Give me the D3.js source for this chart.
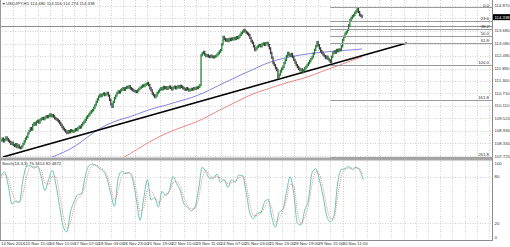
<!DOCTYPE html>
<html>
<head>
<meta charset="utf-8">
<script src="https://cdn.jsdelivr.net/npm/d3@7"></script>
<style>
  body { margin: 0; background: #fff; }
  svg { display: block; font-family: "Liberation Sans", Arial, sans-serif; }
</style>
</head>
<body>
<div id="chart"></div>
<script>
const TITLE = "USDJPY,H1  114.480 114.556 114.274 114.338";
const STOCH_TITLE = "Stoch(14,3,3) 76.3414 82.4872";
const LAST_PRICE = 114.338;
const FIRST_OPEN = 108.45;

// hourly closes, one per bar
const CLOSES = [
  108.48, 108.55, 108.42, 108.50, 108.60, 108.52, 108.45, 108.39, 108.30, 108.35,
  108.25, 108.20, 108.28, 108.15, 108.22, 108.12, 108.10, 108.18, 108.30, 108.42,
  108.55, 108.63, 108.80, 108.92, 109.05, 108.98, 109.20, 109.28, 109.22, 109.35,
  109.40, 109.32, 109.45, 109.50, 109.53, 109.48, 109.55, 109.62, 109.58, 109.63,
  109.70, 109.62, 109.67, 109.60, 109.52, 109.48, 109.44, 109.38, 109.29, 109.20,
  109.10, 109.02, 108.95, 108.88, 108.82, 108.90, 108.85, 108.95, 108.91, 108.88,
  108.93, 109.00, 108.96, 109.05, 109.12, 109.08, 109.20, 109.28, 109.35, 109.44,
  109.55, 109.62, 109.70, 109.78, 109.85, 109.91, 110.02, 110.15, 110.30, 110.42,
  110.55, 110.63, 110.58, 110.66, 110.70, 110.62, 110.68, 110.72, 110.60, 110.40,
  110.18, 110.06, 110.30, 110.48, 110.60, 110.72, 110.80, 110.75, 110.85, 110.90,
  110.95, 110.88, 110.96, 111.01, 110.98, 111.05, 110.95, 110.90, 110.85, 110.82,
  110.80, 110.77, 110.85, 110.92, 110.98, 111.02, 111.08, 111.05, 111.12, 111.16,
  111.20, 111.10, 110.95, 110.85, 110.70, 110.62, 110.53, 110.60, 110.72, 110.80,
  110.88, 110.95, 110.90, 111.01, 110.95, 111.00, 110.92, 110.98, 111.03, 110.96,
  110.90, 110.98, 111.02, 110.95, 111.00, 111.05, 110.98, 111.06, 111.02, 110.96,
  110.92, 110.88, 110.95, 110.90, 110.84, 110.87, 110.92, 110.89, 110.95, 110.92,
  110.98, 110.96, 111.02, 111.10, 112.53, 112.62, 112.68, 112.55, 112.48, 112.52,
  112.47, 112.44, 112.50, 112.45, 112.42, 112.46, 112.49, 112.55, 112.62, 112.70,
  112.77, 113.05, 113.39, 113.30, 113.22, 113.28, 113.20, 113.30, 113.25, 113.32,
  113.28, 113.35, 113.30, 113.38, 113.34, 113.42, 113.50, 113.58, 113.65, 113.73,
  113.66, 113.60, 113.55, 113.49, 113.35, 113.20, 113.11, 112.95, 112.77, 112.85,
  112.92, 112.98, 113.01, 112.95, 113.05, 113.08, 113.02, 113.10, 113.11, 113.00,
  112.85, 112.63, 112.40, 112.15, 112.05, 111.92, 111.82, 111.44, 111.60, 111.75,
  111.88, 111.96, 112.15, 112.30, 112.48, 112.63, 112.55, 112.50, 112.58, 112.44,
  112.30, 112.18, 112.05, 111.96, 111.88, 111.80, 111.85, 111.72, 111.80, 111.90,
  111.98, 112.06, 112.15, 112.25, 112.35, 112.44, 112.60, 112.78, 112.95, 113.15,
  113.00, 112.85, 112.72, 112.63, 112.55, 112.48, 112.39, 112.45, 112.35, 112.28,
  112.20, 112.45, 112.63, 112.70, 112.65, 112.77, 112.72, 112.80, 112.77, 112.95,
  113.25, 113.40, 113.55, 113.62, 113.73, 113.95, 114.20, 114.30, 114.38, 114.44,
  114.55, 114.62, 114.72, 114.58, 114.44, 114.40, 114.34
];

const MA_STEP = 10;
const BLUE_MA_START = 36;
const BLUE_MA = [
  107.53, 107.77, 108.01, 108.39, 108.86, 109.20, 109.44, 109.58, 109.82, 110.01,
  110.15, 110.34, 110.49, 110.72, 111.01, 111.29, 111.58, 111.82, 112.11, 112.30,
  112.44, 112.54, 112.63, 112.68, 112.73, 112.77, 112.82
];
const RED_MA_START = 96;
const RED_MA = [
  107.53, 107.82, 108.20, 108.53, 108.82, 109.05, 109.25, 109.48, 109.82, 110.10,
  110.39, 110.68, 110.87, 111.06, 111.25, 111.39, 111.58, 111.82, 112.01, 112.25,
  112.44
];

const TREND_BARS = [1.6, 332.8];
const TREND_PRICES = [107.67, 113.11];
const HLINE_PRICE = 113.92;

const FIB_LEVELS = [0, 23.6, 38.2, 50, 61.8, 100, 161.8, 261.8];
const FIB_HIGH = 114.80;
const FIB_LOW = 112.08;
const FIB_START_BAR = 270;

const STOCH_STEP = 3;
const STOCH_MAIN = [
  81, 86, 68, 45, 48, 47, 76, 93, 94, 91, 93, 80, 62, 76, 88, 70, 42, 16, 9, 35,
  48, 57, 58, 80, 94, 96, 94, 90, 87, 77, 58, 42, 77, 87, 84, 85, 76, 50, 24, 52,
  76, 50, 53, 41, 61, 56, 62, 80, 71, 62, 45, 41, 36, 41, 64, 92, 86, 78, 78, 83,
  73, 76, 66, 76, 73, 82, 81, 60, 33, 26, 33, 34, 47, 51, 28, 15, 34, 38, 60, 80,
  58, 20, 18, 37, 50, 85, 90, 76, 55, 30, 22, 30, 72, 89, 90, 93, 89, 92, 88, 76
];
const STOCH_SIGNAL = [
  78, 83, 78, 60, 50, 47, 58, 80, 92, 93, 92, 88, 72, 70, 80, 80, 58, 30, 14, 22,
  40, 52, 56, 68, 86, 94, 95, 92, 89, 82, 67, 50, 62, 80, 85, 85, 80, 62, 36, 40,
  63, 62, 54, 47, 52, 58, 60, 72, 74, 67, 53, 43, 39, 39, 52, 78, 88, 82, 79, 80,
  78, 75, 71, 72, 74, 78, 81, 70, 45, 30, 30, 33, 40, 48, 40, 22, 26, 36, 50, 70,
  68, 35, 20, 28, 43, 70, 86, 83, 65, 42, 26, 27, 55, 80, 89, 91, 91, 91, 90, 82
];
const STOCH_TICKS = [100, 80, 20, 0];
const STOCH_LEVELS = [80, 20];

const PRICE_TICKS = [
  114.870, 114.280, 113.680, 113.080, 112.490, 111.890, 111.300,
  110.710, 110.110, 109.520, 108.930, 108.330, 107.720
];

const X_LABEL_STEP = 20;
const X_LABELS = [
  "14 Nov 2016", "15 Nov 15:00", "16 Nov 11:00", "17 Nov 07:00", "18 Nov 03:00",
  "18 Nov 23:00", "21 Nov 19:00", "22 Nov 15:00", "23 Nov 11:00", "24 Nov 07:00",
  "25 Nov 03:00", "25 Nov 23:00", "28 Nov 19:00", "29 Nov 15:00", "30 Nov 11:00"
];

const width = 510;
const height = 247;
const plotRight = 492;
const mainTop = 1;
const mainBottom = 157;
const stochTop = 161;
const stochBottom = 239;
const fs = 4.3;
const gridColor = "#c4c4c4";
const textColor = "#303030";

const x = d3.scaleLinear().domain([0, 402.5]).range([1, plotRight]);
const y = d3.scaleLinear().domain([107.673, 115.108]).range([mainBottom, mainTop]);
const ys = d3.scaleLinear().domain([0, 100]).range([stochBottom, stochTop]);
const fmt3 = d3.format(".3f");

const svg = d3.select("#chart").append("svg")
  .attr("width", width)
  .attr("height", height)
  .attr("viewBox", [0, 0, width, height]);

svg.append("rect").attr("width", width).attr("height", height).attr("fill", "#fff");

const defs = svg.append("defs");
defs.append("clipPath").attr("id", "clipMain")
  .append("rect").attr("x", 0).attr("y", 0).attr("width", plotRight).attr("height", mainBottom);
defs.append("clipPath").attr("id", "clipStoch")
  .append("rect").attr("x", 0).attr("y", stochTop).attr("width", plotRight).attr("height", stochBottom - stochTop);

// grid
const gridBars = d3.range(10, 403, 10);
svg.append("g")
  .attr("stroke", gridColor)
  .attr("stroke-dasharray", "1,1.5")
  .attr("stroke-width", 0.8)
  .call((g) => g.selectAll("line.v1").data(gridBars).join("line")
    .attr("x1", (d) => Math.round(x(d)) + 0.5).attr("x2", (d) => Math.round(x(d)) + 0.5)
    .attr("y1", 0).attr("y2", mainBottom))
  .call((g) => g.selectAll("line.v2").data(gridBars).join("line")
    .attr("x1", (d) => Math.round(x(d)) + 0.5).attr("x2", (d) => Math.round(x(d)) + 0.5)
    .attr("y1", stochTop).attr("y2", stochBottom))
  .call((g) => g.selectAll("line.h").data(PRICE_TICKS).join("line")
    .attr("x1", 0).attr("x2", plotRight)
    .attr("y1", (d) => Math.round(y(d)) + 0.5).attr("y2", (d) => Math.round(y(d)) + 0.5))
  .call((g) => g.selectAll("line.s").data(STOCH_LEVELS).join("line")
    .attr("x1", 0).attr("x2", plotRight)
    .attr("y1", (d) => Math.round(ys(d)) + 0.5).attr("y2", (d) => Math.round(ys(d)) + 0.5));

const main = svg.append("g").attr("clip-path", "url(#clipMain)");

// horizontal line across chart
main.append("line")
  .attr("x1", 0).attr("x2", plotRight)
  .attr("y1", Math.round(y(HLINE_PRICE)) + 0.5).attr("y2", Math.round(y(HLINE_PRICE)) + 0.5)
  .attr("stroke", "#8c8c8c").attr("stroke-width", 1);

// fibonacci levels
const fibPrice = (lvl) => FIB_HIGH - (FIB_HIGH - FIB_LOW) * lvl / 100;
const fib = svg.append("g");
fib.selectAll("line").data(FIB_LEVELS).join("line")
  .attr("x1", x(FIB_START_BAR)).attr("x2", plotRight)
  .attr("y1", (d) => Math.round(y(fibPrice(d))) + 0.5)
  .attr("y2", (d) => Math.round(y(fibPrice(d))) + 0.5)
  .attr("stroke", "#9a9a9a").attr("stroke-width", 1);
fib.selectAll("text").data(FIB_LEVELS).join("text")
  .attr("x", plotRight - 3)
  .attr("y", (d) => y(fibPrice(d)) - 0.8)
  .attr("text-anchor", "end")
  .attr("font-size", fs)
  .attr("fill", textColor)
  .text((d) => d.toFixed(1));

// moving averages
const maLine = (start) => d3.line()
  .x((d, k) => x(start + k * MA_STEP))
  .y((d) => y(d))
  .curve(d3.curveBasis);
main.append("path").attr("d", maLine(BLUE_MA_START)(BLUE_MA))
  .attr("fill", "none").attr("stroke", "#7474e0").attr("stroke-width", 0.9);
main.append("path").attr("d", maLine(RED_MA_START)(RED_MA))
  .attr("fill", "none").attr("stroke", "#e87878").attr("stroke-width", 0.9);

// trendline
main.append("line")
  .attr("x1", x(TREND_BARS[0])).attr("y1", y(TREND_PRICES[0]))
  .attr("x2", x(TREND_BARS[1])).attr("y2", y(TREND_PRICES[1]))
  .attr("stroke", "#000").attr("stroke-width", 1.5);

// candles (open = previous close)
const bars = CLOSES.map((c, i) => ({ i, open: i === 0 ? FIRST_OPEN : CLOSES[i - 1], close: c }));
main.append("g").selectAll("line").data(bars).join("line")
  .attr("x1", (d) => x(d.i)).attr("x2", (d) => x(d.i))
  .attr("y1", (d) => y(Math.max(d.open, d.close)) - 1.2)
  .attr("y2", (d) => y(Math.min(d.open, d.close)) + 1.2)
  .attr("stroke", (d) => (d.close >= d.open ? "#1f7a30" : "#3a3a3a"))
  .attr("stroke-width", 1.25);

// stochastic
const stochLine = d3.line()
  .x((d, k) => x(k * STOCH_STEP))
  .y((d) => ys(d))
  .curve(d3.curveMonotoneX);
const stoch = svg.append("g").attr("clip-path", "url(#clipStoch)");
stoch.append("path").attr("d", stochLine(STOCH_MAIN))
  .attr("fill", "none").attr("stroke", "#6cc4b4").attr("stroke-width", 1);
stoch.append("path").attr("d", stochLine(STOCH_SIGNAL))
  .attr("fill", "none").attr("stroke", "#e07a7a").attr("stroke-width", 0.8)
  .attr("stroke-dasharray", "1,1");

// frames / separators
svg.append("rect").attr("x", 0).attr("y", mainBottom + 0.5).attr("width", plotRight).attr("height", 3)
  .attr("fill", "#a6a6a6");
svg.append("line").attr("x1", 0.5).attr("x2", 0.5).attr("y1", 0).attr("y2", stochBottom + 1)
  .attr("stroke", "#9a9a9a");
svg.append("line").attr("x1", 0).attr("x2", plotRight + 1).attr("y1", stochBottom + 1.5).attr("y2", stochBottom + 1.5)
  .attr("stroke", "#8a8a8a");
svg.append("line").attr("x1", plotRight + 0.5).attr("x2", plotRight + 0.5).attr("y1", 0).attr("y2", stochBottom + 2)
  .attr("stroke", "#8a8a8a");

// price axis
const axisText = svg.append("g").attr("font-size", fs).attr("fill", textColor);
axisText.selectAll("text.p").data(PRICE_TICKS).join("text")
  .attr("x", plotRight + 2.5).attr("y", (d) => y(d)).attr("dy", "0.35em")
  .text((d) => fmt3(d));
axisText.selectAll("text.s").data(STOCH_TICKS).join("text")
  .attr("x", plotRight + 2.5)
  .attr("y", (d) => Math.min(stochBottom - 2, Math.max(stochTop + 2, ys(d))))
  .attr("dy", "0.35em")
  .text((d) => d);

// last price box
const lastY = y(LAST_PRICE);
svg.append("rect").attr("x", plotRight + 1).attr("y", lastY - 3).attr("width", width - plotRight - 1).attr("height", 6)
  .attr("fill", "#000");
svg.append("text").attr("x", plotRight + 2.5).attr("y", lastY).attr("dy", "0.35em")
  .attr("font-size", fs).attr("fill", "#fff").text(fmt3(LAST_PRICE));

// time axis
svg.append("g").attr("font-size", fs).attr("fill", textColor)
  .selectAll("text").data(X_LABELS).join("text")
  .attr("x", (d, i) => x(i * X_LABEL_STEP))
  .attr("y", 244.5)
  .text((d) => d);

// titles
svg.append("text").attr("x", 2).attr("y", 5).attr("font-size", 3.5).attr("fill", "#222").text("▼");
svg.append("text").attr("x", 6).attr("y", 5).attr("font-size", fs).attr("fill", textColor).text(TITLE);
svg.append("text").attr("x", 2).attr("y", stochTop + 3.8).attr("font-size", fs).attr("fill", textColor).text(STOCH_TITLE);
</script>
</body>
</html>
